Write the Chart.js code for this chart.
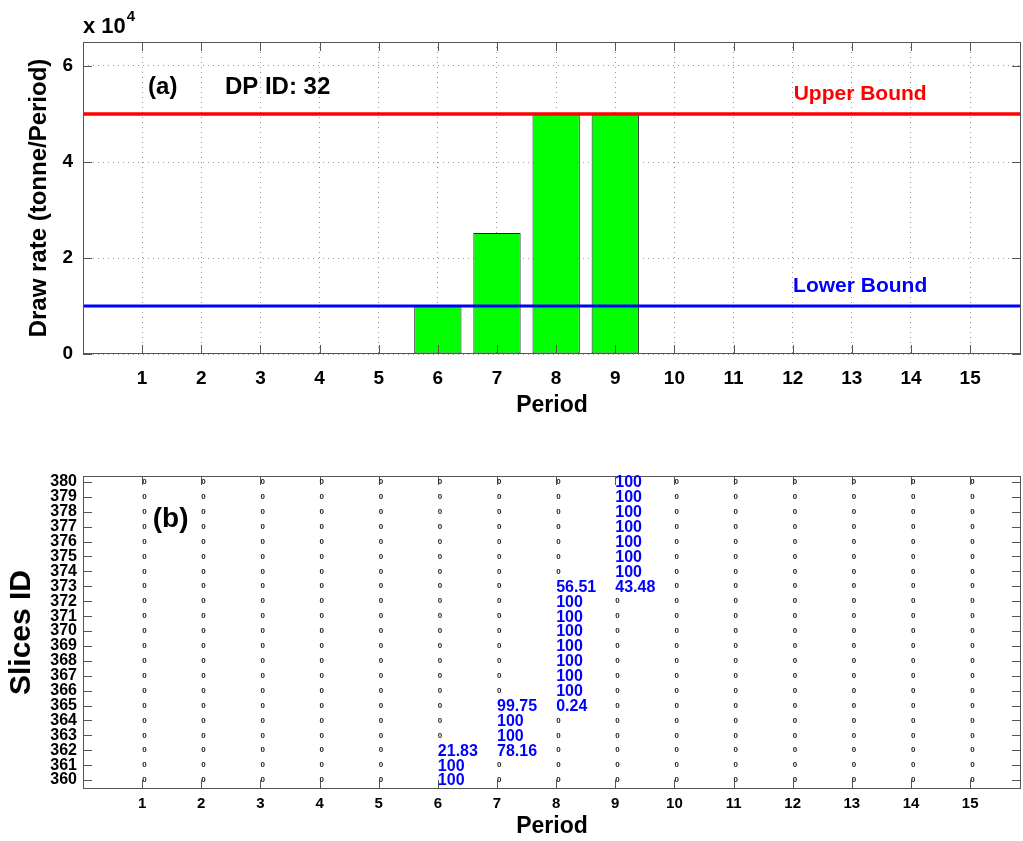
<!DOCTYPE html>
<html>
<head>
<meta charset="utf-8">
<script src="https://cdn.jsdelivr.net/npm/chart.js@4.4.0/dist/chart.umd.min.js"></script>
<style>
  html, body { margin: 0; padding: 0; background: #fff; }
  #wrap { position: relative; width: 1023px; height: 841px; }
  #chartA { position: absolute; left: 0; top: 0; }
  #chartB { position: absolute; left: 0; top: 430px; }
</style>
</head>
<body>
<div id="wrap">
  <canvas id="chartA" width="1023" height="430"></canvas>
  <canvas id="chartB" width="1023" height="411"></canvas>
</div>
<script>
const fam = '"Liberation Sans", Arial, Helvetica, sans-serif';
Chart.defaults.font.family = fam;
Chart.defaults.font.weight = 'bold';
Chart.defaults.color = '#000';

// panel (a)
const periods = [1, 2, 3, 4, 5, 6, 7, 8, 9, 10, 11, 12, 13, 14, 15];
const drawRate = [0, 0, 0, 0, 0, 10000, 25200, 50000, 50000, 0, 0, 0, 0, 0, 0];
const upperBound = 50000;
const lowerBound = 10000;
const rateTicks = [0, 20000, 40000, 60000];

// panel (b): slices drawn (percent), every other cell is 0
const sliceIds = [360, 361, 362, 363, 364, 365, 366, 367, 368, 369, 370,
                  371, 372, 373, 374, 375, 376, 377, 378, 379, 380];
const drawnPeriod = [6, 6, 6, 7, 7, 7, 7, 8, 8, 8, 8, 8, 8, 8, 8, 8, 9, 9, 9, 9, 9, 9, 9, 9];
const drawnSlice = [360, 361, 362, 362, 363, 364, 365, 365, 366, 367, 368, 369, 370, 371, 372, 373,
                    373, 374, 375, 376, 377, 378, 379, 380];
const drawnPct = [100, 100, 21.83, 78.16, 100, 100, 99.75, 0.24, 100, 100, 100, 100, 100, 100, 100, 56.51,
                  43.48, 100, 100, 100, 100, 100, 100, 100];

const xMax = 15.86;

const setTicks = vals => s => { s.ticks = vals.map(v => ({ value: v })); };

function drawFrame(chart) {
  const { ctx, chartArea: a, scales: { x, y } } = chart;
  ctx.save();
  ctx.strokeStyle = '#555';
  ctx.lineWidth = 1;
  ctx.beginPath();
  x.ticks.forEach(t => {
    const px = Math.round(x.getPixelForValue(t.value)) + 0.5;
    ctx.moveTo(px, a.bottom); ctx.lineTo(px, a.bottom - 9);
    ctx.moveTo(px, a.top); ctx.lineTo(px, a.top + 9);
  });
  y.ticks.forEach(t => {
    const py = Math.round(y.getPixelForValue(t.value)) + 0.5;
    ctx.moveTo(a.left, py); ctx.lineTo(a.left + 9, py);
    ctx.moveTo(a.right, py); ctx.lineTo(a.right - 9, py);
  });
  ctx.stroke();
  ctx.strokeRect(Math.round(a.left) + 0.5, Math.round(a.top) + 0.5,
                 Math.round(a.width) - 1, Math.round(a.height) - 1);
  ctx.restore();
}

const panelA = {
  id: 'panelA',
  afterDatasetsDraw(chart) {
    const { ctx, chartArea: a, scales: { x, y } } = chart;
    drawFrame(chart);
    ctx.save();
    ctx.textBaseline = 'middle';
    ctx.textAlign = 'left';
    ctx.fillStyle = '#000';
    ctx.font = 'bold 24px ' + fam;
    ctx.fillText('(a)', x.getPixelForValue(1.10), y.getPixelForValue(55600));
    ctx.fillText('DP ID: 32', x.getPixelForValue(2.40), y.getPixelForValue(55600));

    ctx.textAlign = 'center';
    ctx.font = 'bold 21px ' + fam;
    ctx.fillStyle = '#ff0000';
    ctx.fillText('Upper Bound', x.getPixelForValue(13.14), y.getPixelForValue(54200));
    ctx.fillStyle = '#0000ff';
    ctx.fillText('Lower Bound', x.getPixelForValue(13.14), y.getPixelForValue(14100));

    // exponent label
    ctx.fillStyle = '#000';
    ctx.textAlign = 'left';
    ctx.textBaseline = 'alphabetic';
    ctx.font = 'bold 22px ' + fam;
    ctx.fillText('x 10', a.left, a.top - 9);
    const w = ctx.measureText('x 10').width;
    ctx.font = 'bold 15px ' + fam;
    ctx.fillText('4', a.left + w + 1, a.top - 21);
    ctx.restore();
  }
};

const panelB = {
  id: 'panelB',
  afterDatasetsDraw(chart) {
    const { ctx, scales: { x, y } } = chart;
    drawFrame(chart);
    const meta = chart.getDatasetMeta(0);
    const raw = chart.data.datasets[0].data;
    ctx.save();
    ctx.textAlign = 'left';
    ctx.textBaseline = 'middle';
    meta.data.forEach((pt, i) => {
      const v = raw[i].v;
      if (v === 0) {
        ctx.fillStyle = '#222';
        ctx.font = 'bold 8px ' + fam;
        ctx.fillText('0', pt.x, pt.y);
      } else {
        ctx.fillStyle = '#0000ff';
        ctx.font = 'bold 16px ' + fam;
        ctx.fillText(String(v), pt.x, pt.y + 1);
      }
    });
    ctx.fillStyle = '#000';
    ctx.font = 'bold 28px ' + fam;
    ctx.fillText('(b)', x.getPixelForValue(1.18), y.getPixelForValue(377.5));
    ctx.restore();
  }
};

new Chart(document.getElementById('chartA'), {
  type: 'bar',
  data: {
    datasets: [
      {
        type: 'line',
        data: [{ x: 0, y: upperBound }, { x: xMax, y: upperBound }],
        borderColor: '#ff0000',
        borderWidth: 3.5,
        pointRadius: 0
      },
      {
        type: 'line',
        data: [{ x: 0, y: lowerBound }, { x: xMax, y: lowerBound }],
        borderColor: '#0000ff',
        borderWidth: 3,
        pointRadius: 0
      },
      {
        type: 'bar',
        data: periods.map((p, i) => ({ x: p, y: drawRate[i] || null })),
        backgroundColor: '#00ff00',
        borderColor: '#222',
        borderWidth: 1,
        borderSkipped: false,
        categoryPercentage: 1,
        barPercentage: 0.8
      }
    ]
  },
  options: {
    responsive: false,
    animation: false,
    layout: { padding: { top: 42, right: 2, left: 0, bottom: 0 } },
    plugins: { legend: { display: false }, tooltip: { enabled: false } },
    scales: {
      x: {
        type: 'linear',
        min: 0,
        max: xMax,
        offset: false,
        grid: { offset: false, drawTicks: false, color: '#999' },
        border: { display: false, dash: [1, 4] },
        ticks: { autoSkip: false, maxRotation: 0, padding: 13, font: { size: 19 } },
        afterBuildTicks: setTicks(periods),
        title: { display: true, text: 'Period', font: { size: 23 }, padding: { top: 0, bottom: 11 } },
        afterFit: s => { s.height = 76; }
      },
      y: {
        min: 0,
        max: 65000,
        grid: { drawTicks: false, color: '#999' },
        border: { display: false, dash: [1, 4] },
        ticks: { padding: 10, font: { size: 19 }, callback: v => v / 10000 },
        afterBuildTicks: setTicks(rateTicks),
        title: { display: true, text: 'Draw rate (tonne/Period)', font: { size: 24 }, padding: { top: 25, bottom: 0 } },
        afterFit: s => { s.width = 83; }
      }
    }
  },
  plugins: [panelA]
});

const cells = [];
periods.forEach(p => {
  sliceIds.forEach(s => {
    let v = 0;
    drawnPeriod.forEach((dp, k) => {
      if (dp === p && drawnSlice[k] === s) v = drawnPct[k];
    });
    cells.push({ x: p, y: s, v: v });
  });
});

new Chart(document.getElementById('chartB'), {
  type: 'scatter',
  data: {
    datasets: [{ data: cells, pointRadius: 0, pointHoverRadius: 0 }]
  },
  options: {
    responsive: false,
    animation: false,
    layout: { padding: { top: 46, right: 2, left: 0, bottom: 0 } },
    plugins: { legend: { display: false }, tooltip: { enabled: false } },
    scales: {
      x: {
        type: 'linear',
        min: 0,
        max: xMax,
        grid: { display: false, drawTicks: false },
        border: { display: false },
        ticks: { autoSkip: false, maxRotation: 0, padding: 6, font: { size: 15 } },
        afterBuildTicks: setTicks(periods),
        title: { display: true, text: 'Period', font: { size: 23 }, padding: { top: 0, bottom: 1 } },
        afterFit: s => { s.height = 52; }
      },
      y: {
        min: 359.4,
        max: 380.4,
        grid: { display: false, drawTicks: false },
        border: { display: false },
        ticks: { autoSkip: false, padding: 6, font: { size: 16 } },
        afterBuildTicks: setTicks(sliceIds),
        title: { display: true, text: 'Slices ID', font: { size: 30 }, padding: { top: 4, bottom: 0 } },
        afterFit: s => { s.width = 83; }
      }
    }
  },
  plugins: [panelB]
});
</script>
</body>
</html>
